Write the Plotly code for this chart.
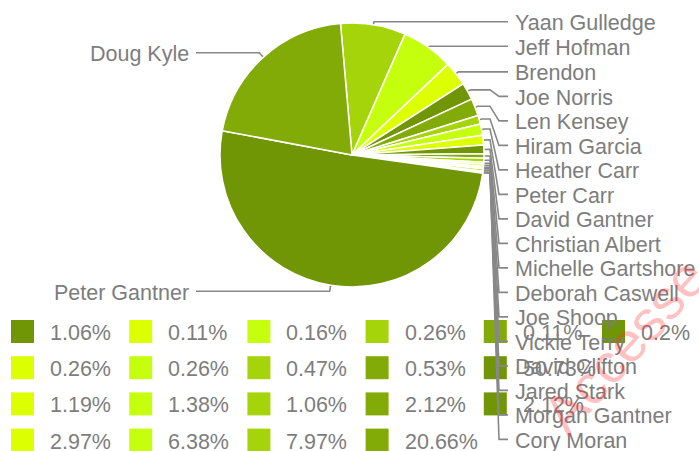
import numpy as np
import plotly.graph_objects as go

# slices, clockwise from 12 o'clock
names = ["Yaan Gulledge", "Jeff Hofman", "Brendon", "Joe Norris", "Len Kensey",
         "Hiram Garcia", "Heather Carr", "Peter Carr", "David Gantner", "Christian Albert",
         "Michelle Gartshore", "Deborah Caswell", "Joe Shoop", "Vickie Terry", "David Clifton",
         "Jared Stark", "Morgan Gantner", "Cory Moran", "Peter Gantner", "Doug Kyle"]
shares = [7.97, 6.38, 2.97, 2.12, 2.12, 1.06, 1.38, 1.19, 1.06, 0.53,
          0.47, 0.26, 0.26, 0.2, 0.11, 0.26, 0.16, 0.11, 50.73, 20.66]
left_names = ["Peter Gantner", "Doug Kyle"]

# legend grid the way it is drawn (slice index per cell, row by row)
legend_rows = [[8, 17, 16, 15, 14, 13],
               [12, 11, 10, 9, 18],
               [7, 6, 5, 4, 3],
               [2, 1, 0, 19]]

palette = ["#a6d40a", "#c6ff0e", "#dcff02", "#709505", "#83ab08"]
colors = [palette[i % 5] for i in range(len(names))]

W, H = 699, 451
cx, cy, R = 352, 155, 132
rot = -5
grey = "#7d7d7d"
font = "Liberation Sans, Arial, sans-serif"

fig = go.Figure()

fig.add_trace(go.Pie(
    labels=names, values=shares, sort=False, direction="clockwise", rotation=rot,
    marker=dict(colors=colors, line=dict(color="white", width=1.5)),
    textinfo="none", hoverinfo="label+percent", showlegend=False,
    domain=dict(x=[(cx - R) / W, (cx + R) / W], y=[1 - (cy + R) / H, 1 - (cy - R) / H]),
))

# slice angles (degrees, clockwise from top)
frac = np.array(shares) / sum(shares)
ends = rot + 360 * np.cumsum(frac)
mids = np.radians(ends - 180 * frac)

def at(r, t):
    return cx + r * np.sin(t), cy - r * np.cos(t)

lx, ly = [], []
annotations = []

# right hand labels, stacked
prev = -1e9
for i, name in enumerate(names):
    if name in left_names:
        continue
    ex, ey = at(R, mids[i])
    px, py = at(R + 3, mids[i])
    y = max(py, prev + 24.5)
    prev = y
    if y - py < 2:
        lx += [ex, px, 508, None]
        ly += [ey, y, y, None]
    else:
        lx += [ex, px, 490, 499, 508, None]
        ly += [ey, py, py, y, y, None]
    annotations.append(dict(x=513, y=y + 1.5, text=name, xanchor="left", yanchor="middle",
                            showarrow=False, font=dict(size=21.5, color=grey, family=font)))

# left hand labels
for name in left_names:
    i = names.index(name)
    ex, ey = at(R, mids[i])
    px, py = at(R + 6, mids[i])
    lx += [ex, px, 196, None]
    ly += [ey, py, py, None]
    annotations.append(dict(x=191, y=py + 1.5, text=name, xanchor="right", yanchor="middle",
                            showarrow=False, font=dict(size=21.5, color=grey, family=font)))

# legend squares and percentages
sx, sy, sc = [], [], []
for r, row in enumerate(legend_rows):
    for c, i in enumerate(row):
        left = 11 + 118.2 * c
        yc = 331.5 + 36.2 * r
        sx.append(left + 11.5)
        sy.append(yc)
        sc.append(colors[i])
        annotations.append(dict(x=left + 37, y=yc + 1.5, text=f"{shares[i]:g}%", xanchor="left",
                                yanchor="middle", showarrow=False,
                                font=dict(size=21.5, color=grey, family=font)))

fig.add_trace(go.Scatter(x=sx, y=sy, mode="markers", hoverinfo="skip", showlegend=False,
                         marker=dict(symbol="square", size=23, color=sc, line=dict(width=0))))
fig.add_trace(go.Scatter(x=lx, y=ly, mode="lines", hoverinfo="skip", showlegend=False,
                         line=dict(color="#888888", width=1.6)))

# watermark
wm = dict(size=56, color="rgba(255,50,50,0.3)", family=font)
annotations.append(dict(x=624, y=345, text="Accesse", textangle=-48, showarrow=False, font=wm))
annotations.append(dict(x=651, y=466, text="2023", textangle=-48, showarrow=False, font=wm))

fig.update_layout(
    width=W, height=H,
    margin=dict(l=0, r=0, t=0, b=0),
    paper_bgcolor="white", plot_bgcolor="white",
    xaxis=dict(range=[0, W], visible=False, fixedrange=True),
    yaxis=dict(range=[H, 0], visible=False, fixedrange=True),
    annotations=annotations,
)

fig.write_html("out.html", config={"displayModeBar": False},
               post_script="document.body.style.margin='0';document.body.style.overflow='hidden';")
